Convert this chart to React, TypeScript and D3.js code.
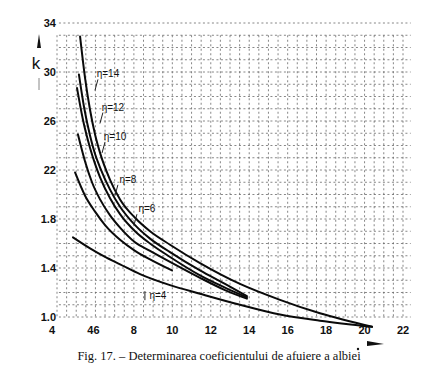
import React, { useEffect, useRef } from 'react';
import * as d3 from 'd3';

// x axis ticks (labels as printed on the scan)
const xTicks = [4, 6, 8, 10, 12, 14, 16, 18, 20, 22];
const xTickLabels = ['4', '46', '8', '10', '12', '14', '16', '18', '20', '22'];

// y axis ticks (decimal points lost in print on the upper ones)
const yTicks = [1.0, 1.4, 1.8, 2.2, 2.6, 3.0, 3.4];
const yTickLabels = ['1.0', '1.4', '1.8', '22', '26', '30', '34'];

// curve names
const etaNames = ['η=14', 'η=12', 'η=10', 'η=8', 'η=6', 'η=4'];

// one x / k list per curve
const eta14X = [5.2, 5.46, 5.72, 5.98, 6.24, 6.76, 7.28, 8.06, 8.84, 9.88, 11.44, 13.52, 15.6, 17.68, 20.39];
const eta14K = [3.29, 2.95, 2.69, 2.49, 2.34, 2.12, 1.96, 1.81, 1.7, 1.59, 1.44, 1.27, 1.14, 1.03, 0.92];

const eta12X = [5.14, 5.41, 5.72, 5.98, 6.24, 6.76, 7.28, 8.06, 8.84, 9.88, 11.44, 12.74, 13.88];
const eta12K = [2.98, 2.71, 2.48, 2.33, 2.22, 2.04, 1.9, 1.75, 1.64, 1.53, 1.38, 1.27, 1.17];

const eta10X = [5.04, 5.35, 5.72, 5.98, 6.24, 6.76, 7.28, 8.06, 8.84, 9.88, 11.44, 12.74, 13.88];
const eta10K = [2.87, 2.61, 2.38, 2.25, 2.14, 1.97, 1.84, 1.7, 1.6, 1.49, 1.34, 1.24, 1.16];

const eta8X = [5.09, 5.46, 5.82, 6.24, 6.76, 7.28, 8.06, 8.84, 9.88, 11.44, 12.74, 13.88];
const eta8K = [2.49, 2.27, 2.1, 1.96, 1.83, 1.73, 1.61, 1.54, 1.45, 1.32, 1.22, 1.15];

const eta6X = [4.94, 5.46, 5.98, 6.5, 7.28, 8.06, 8.84, 9.98];
const eta6K = [2.18, 1.99, 1.86, 1.75, 1.63, 1.54, 1.47, 1.38];

const eta4X = [4.83, 5.72, 6.5, 7.28, 8.32, 9.88, 11.44, 13.52, 15.6, 17.68, 20.39];
const eta4K = [1.65, 1.56, 1.49, 1.43, 1.35, 1.26, 1.19, 1.1, 1.02, 0.97, 0.92];

const seriesX = [eta14X, eta12X, eta10X, eta8X, eta6X, eta4X];
const seriesK = [eta14K, eta12K, eta10K, eta8K, eta6K, eta4K];

// where the η labels sit (data units)
const labelX = [6.65, 6.91, 7.02, 7.69, 8.68, 9.25];
const labelK = [2.98, 2.71, 2.47, 2.12, 1.88, 1.17];

const caption = 'Fig. 17. – Determinarea coeficientului de afuiere a albiei';

const W = 422;
const H = 374;

export default function App(): React.ReactElement {
  const svgRef = useRef<SVGSVGElement>(null);

  useEffect(() => {
    if (!svgRef.current) return;
    const svg = d3.select(svgRef.current);
    svg.selectAll('*').remove();

    const x = d3.scaleLinear().domain([4, 22]).range([57, 403]);
    const y = d3.scaleLinear().domain([1.0, 3.4]).range([317, 23]);
    const sans = 'Liberation Sans Narrow, Liberation Sans, Arial, sans-serif';

    // dashed grid, like the scanned graph paper
    const grid = svg.append('g')
      .attr('stroke', '#2a2a2a')
      .attr('stroke-width', 0.8)
      .attr('stroke-dasharray', '2,2.5')
      .attr('opacity', 0.7);

    d3.range(10, 35).map((v) => v / 10).forEach((k) => {
      grid.append('line')
        .attr('x1', x(4.1)).attr('x2', x(22.4))
        .attr('y1', y(k)).attr('y2', y(k));
    });
    d3.range(8, 45).map((v) => v / 2).forEach((v) => {
      grid.append('line')
        .attr('x1', x(v)).attr('x2', x(v))
        .attr('y1', y(3.3)).attr('y2', y(1.0));
    });

    // y tick labels
    yTicks.forEach((t, i) => {
      svg.append('text')
        .attr('x', 56)
        .attr('y', y(t) + 4)
        .attr('text-anchor', 'end')
        .attr('font-family', sans)
        .attr('font-size', 11)
        .attr('font-weight', 700)
        .attr('fill', '#111')
        .text(yTickLabels[i]);
    });

    // x tick labels
    xTicks.forEach((t, i) => {
      svg.append('text')
        .attr('x', i === 0 ? x(t) - 5 : i === 1 ? x(t) - 2 : x(t))
        .attr('y', 334)
        .attr('text-anchor', 'middle')
        .attr('font-family', sans)
        .attr('font-size', 11)
        .attr('font-weight', 700)
        .attr('fill', '#111')
        .text(xTickLabels[i]);
    });

    // curves
    const line = d3.line<[number, number]>()
      .x((d) => x(d[0]))
      .y((d) => y(d[1]))
      .curve(d3.curveMonotoneX);

    seriesX.forEach((xs, i) => {
      const pts = xs.map((v, j) => [v, seriesK[i][j]] as [number, number]);
      svg.append('path')
        .attr('d', line(pts) ?? '')
        .attr('fill', 'none')
        .attr('stroke', '#0a0a0a')
        .attr('stroke-width', 2)
        .attr('stroke-linecap', 'round');
    });

    // η labels with short leader ticks
    etaNames.forEach((name, i) => {
      const lx = x(labelX[i]);
      const ly = y(labelK[i]);
      svg.append('text')
        .attr('x', lx)
        .attr('y', ly + 3)
        .attr('text-anchor', 'middle')
        .attr('font-family', sans)
        .attr('font-size', 10)
        .attr('fill', '#111')
        .text(name);
      const last = i === etaNames.length - 1;
      svg.append('line')
        .attr('x1', last ? lx - 13 : lx - 10).attr('y1', last ? ly - 5 : ly + 5)
        .attr('x2', last ? lx - 13 : lx - 13).attr('y2', last ? ly + 4 : ly + 16)
        .attr('stroke', '#222')
        .attr('stroke-width', 1);
    });

    // axis name k with arrow
    svg.append('path')
      .attr('d', 'M 39 34 L 41 48 L 37 48 Z')
      .attr('fill', '#111');
    svg.append('text')
      .attr('x', 36)
      .attr('y', 69)
      .attr('text-anchor', 'middle')
      .attr('font-family', sans)
      .attr('font-size', 17)
      .attr('fill', '#111')
      .text('k');
    svg.append('line')
      .attr('x1', 39).attr('x2', 39)
      .attr('y1', 78).attr('y2', 90)
      .attr('stroke', '#888')
      .attr('stroke-width', 1);

    // x direction arrow
    svg.append('path')
      .attr('d', 'M 367 341 L 384 344 L 367 346 Z')
      .attr('fill', '#111');
    svg.append('circle')
      .attr('cx', 358).attr('cy', 349).attr('r', 1.2)
      .attr('fill', '#111');

    // caption
    svg.append('text')
      .attr('x', 219)
      .attr('y', 360)
      .attr('text-anchor', 'middle')
      .attr('font-family', 'Liberation Serif, Times New Roman, serif')
      .attr('font-size', 12.5)
      .attr('fill', '#111')
      .text(caption);
  }, []);

  return (
    <svg
      ref={svgRef}
      width={W}
      height={H}
      style={{ position: 'absolute', left: 0, top: 0, background: '#fff' }}
    />
  );
}
